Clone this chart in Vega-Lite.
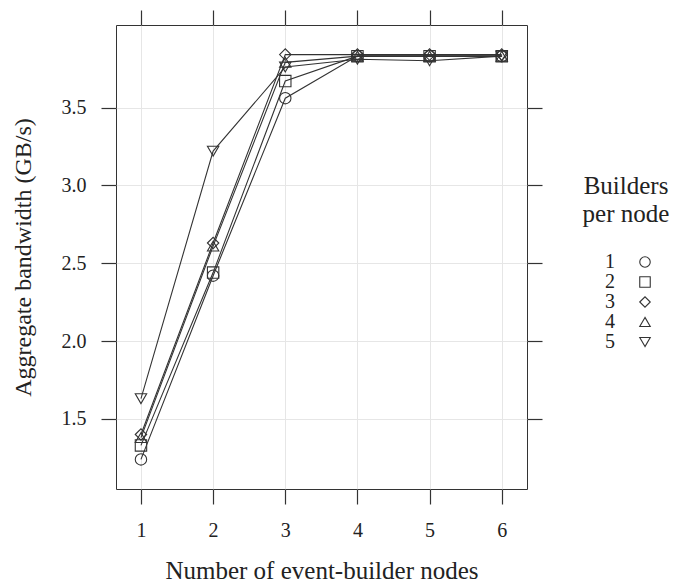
{
  "$schema": "https://vega.github.io/schema/vega-lite/v6.json",
  "width": 411,
  "height": 464,
  "autosize": {"type": "none"},
  "padding": {"left": 116, "top": 25, "right": 146, "bottom": 93},
  "background": "white",
  "config": {
    "font": "Liberation Serif",
    "view": {"stroke": "#333333", "strokeWidth": 1},
    "axis": {
      "domain": false,
      "tickColor": "#333333",
      "tickSize": 15,
      "tickWidth": 1.2,
      "labelFont": "Liberation Serif",
      "labelFontSize": 20,
      "labelColor": "#222222",
      "titleFont": "Liberation Serif",
      "titleFontSize": 25,
      "titleFontWeight": "normal",
      "titleColor": "#222222",
      "gridColor": "#e6e6e6",
      "gridWidth": 1
    },
    "legend": {
      "labelFont": "Liberation Serif",
      "titleFont": "Liberation Serif"
    }
  },
  "data": {
    "values": [
      {"builders": "1", "nodes": 1, "bw": 1.24},
      {"builders": "1", "nodes": 2, "bw": 2.42},
      {"builders": "1", "nodes": 3, "bw": 3.56},
      {"builders": "1", "nodes": 4, "bw": 3.83},
      {"builders": "1", "nodes": 5, "bw": 3.83},
      {"builders": "1", "nodes": 6, "bw": 3.83},
      {"builders": "2", "nodes": 1, "bw": 1.33},
      {"builders": "2", "nodes": 2, "bw": 2.44},
      {"builders": "2", "nodes": 3, "bw": 3.67},
      {"builders": "2", "nodes": 4, "bw": 3.83},
      {"builders": "2", "nodes": 5, "bw": 3.83},
      {"builders": "2", "nodes": 6, "bw": 3.83},
      {"builders": "3", "nodes": 1, "bw": 1.40},
      {"builders": "3", "nodes": 2, "bw": 2.63},
      {"builders": "3", "nodes": 3, "bw": 3.84},
      {"builders": "3", "nodes": 4, "bw": 3.84},
      {"builders": "3", "nodes": 5, "bw": 3.84},
      {"builders": "3", "nodes": 6, "bw": 3.84},
      {"builders": "4", "nodes": 1, "bw": 1.38},
      {"builders": "4", "nodes": 2, "bw": 2.61},
      {"builders": "4", "nodes": 3, "bw": 3.79},
      {"builders": "4", "nodes": 4, "bw": 3.83},
      {"builders": "4", "nodes": 5, "bw": 3.83},
      {"builders": "4", "nodes": 6, "bw": 3.83},
      {"builders": "5", "nodes": 1, "bw": 1.63},
      {"builders": "5", "nodes": 2, "bw": 3.22},
      {"builders": "5", "nodes": 3, "bw": 3.76},
      {"builders": "5", "nodes": 4, "bw": 3.81},
      {"builders": "5", "nodes": 5, "bw": 3.80},
      {"builders": "5", "nodes": 6, "bw": 3.83}
    ]
  },
  "layer": [
    {
      "mark": {"type": "line", "color": "#333333", "strokeWidth": 1.1},
      "encoding": {
        "x": {
          "field": "nodes", "type": "quantitative",
          "scale": {"domain": [0.654, 6.35], "nice": false, "zero": false},
          "axis": {
            "orient": "bottom", "values": [1, 2, 3, 4, 5, 6], "format": "d",
            "title": "Number of event-builder nodes",
            "labelPadding": 16, "titlePadding": 18, "grid": true
          }
        },
        "y": {
          "field": "bw", "type": "quantitative",
          "scale": {"domain": [1.05, 4.03], "nice": false, "zero": false},
          "axis": {
            "orient": "left", "values": [1.5, 2.0, 2.5, 3.0, 3.5], "format": ".1f",
            "title": "Aggregate bandwidth (GB/s)",
            "titleFontSize": 24,
            "labelPadding": 15, "titlePadding": 26, "grid": true
          }
        },
        "detail": {"field": "builders", "type": "nominal"}
      }
    },
    {
      "mark": {"type": "point", "filled": false, "color": "#333333", "strokeWidth": 1.1, "size": 130, "opacity": 1},
      "encoding": {
        "x": {
          "field": "nodes", "type": "quantitative",
          "axis": {"orient": "top", "values": [1, 2, 3, 4, 5, 6], "labels": false, "title": null, "grid": false}
        },
        "y": {
          "field": "bw", "type": "quantitative",
          "axis": {"orient": "right", "values": [1.5, 2.0, 2.5, 3.0, 3.5], "labels": false, "title": null, "grid": false}
        },
        "shape": {
          "field": "builders", "type": "nominal",
          "scale": {"domain": ["1", "2", "3", "4", "5"], "range": ["circle", "square", "diamond", "triangle-up", "triangle-down"]},
          "legend": {
            "title": ["Builders", "per node"],
            "orient": "none",
            "legendX": 467,
            "legendY": 149,
            "titleFontSize": 25,
            "titleFontWeight": "normal",
            "titleColor": "#222222",
            "titleAlign": "center",
            "titleAnchor": "middle",
            "titleLineHeight": 28,
            "titlePadding": 25,
            "titleLimit": 200,
            "labelFontSize": 20,
            "labelColor": "#222222",
            "labelAlign": "right",
            "labelOffset": -40,
            "symbolOffset": 36,
            "symbolSize": 110,
            "symbolStrokeColor": "#333333",
            "symbolStrokeWidth": 1.1,
            "symbolFillColor": "transparent",
            "symbolOpacity": 1,
            "rowPadding": 0
          }
        }
      }
    }
  ],
  "resolve": {"axis": {"x": "independent", "y": "independent"}}
}
